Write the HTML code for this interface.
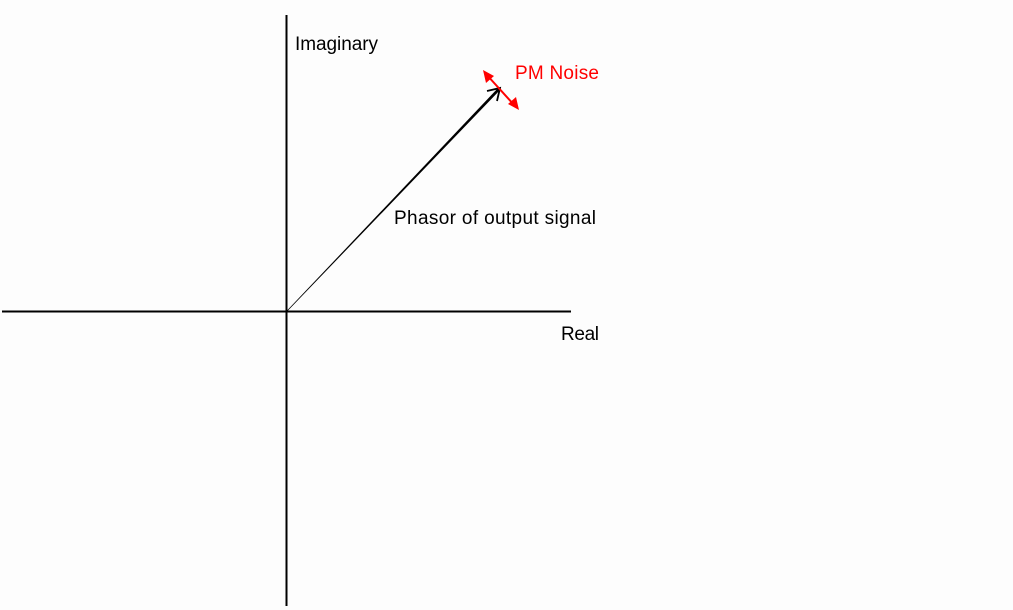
<!DOCTYPE html>
<html><head><style>
body{margin:0;background:#fdfdfd;width:1013px;height:610px;overflow:hidden}
svg{display:block}
text{font-family:"Liberation Sans",Arial,sans-serif;font-size:19px}
</style></head><body>
<svg width="1013" height="610" viewBox="0 0 1013 610">
<line x1="286.5" y1="15" x2="286.5" y2="606" stroke="#000" stroke-width="2"/>
<line x1="2" y1="311.5" x2="571" y2="311.5" stroke="#000" stroke-width="2"/>
<polygon points="286.8,310.8 287.3,311.3 501,89 499,87" fill="#000"/>
<polyline points="487,91 500,88 497,101" fill="none" stroke="#000" stroke-width="1.8"/>
<line x1="486" y1="74" x2="515" y2="106" stroke="#f00" stroke-width="2"/>
<polygon points="483,70 494,76 486,83" fill="#f00"/>
<polygon points="519,110 508,104 516,97" fill="#f00"/>
<text x="295" y="50" textLength="83">Imaginary</text>
<text x="515" y="79" fill="#f00" textLength="84">PM Noise</text>
<text x="394" y="224" textLength="202">Phasor of output signal</text>
<text x="561" y="340" textLength="38">Real</text>
</svg>
</body></html>
